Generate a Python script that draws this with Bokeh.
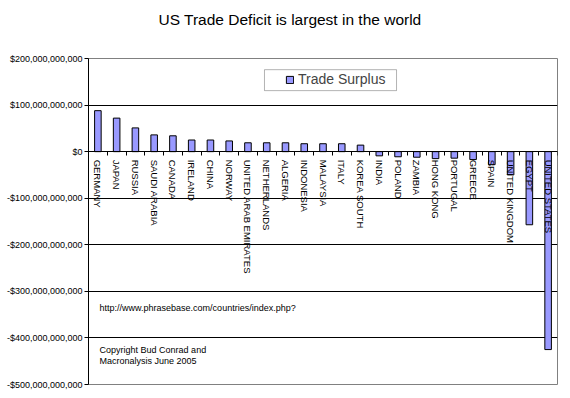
from bokeh.plotting import figure
from bokeh.models import (Label, Legend, LegendItem, FixedTicker, Range1d,
                          ColumnDataSource, BoxAnnotation, Title)
from bokeh.embed import file_html
from bokeh.resources import INLINE

countries = ["GERMANY", "JAPAN", "RUSSIA", "SAUDI ARABIA", "CANADA", "IRELAND",
             "CHINA", "NORWAY", "UNITED ARAB EMIRATES", "NETHERLANDS", "ALGERIA",
             "INDONESIA", "MALAYSIA", "ITALY", "KOREA SOUTH", "INDIA", "POLAND",
             "ZAMBIA", "HONG KONG", "PORTUGAL", "GREECE", "SPAIN",
             "UNITED KINGDOM", "EGYPT", "UNITED STATES"]
# Trade surplus, billions of US dollars
surplus_bn = [88, 72, 51, 36, 34, 25, 25, 23, 19, 19, 19, 17, 17, 17, 14,
              -9, -11, -12, -15, -14, -17, -28, -50, -157, -425]
ytick_values = [200, 100, 0, -100, -200, -300, -400, -500]
ytick_labels = ["$200,000,000,000", "$100,000,000,000", "$0",
                "-$100,000,000,000", "-$200,000,000,000", "-$300,000,000,000",
                "-$400,000,000,000", "-$500,000,000,000"]

FONT = "Liberation Sans"
idx = list(range(len(countries)))
values = [v * 1e9 for v in surplus_bn]
src = ColumnDataSource(dict(x=idx, top=values, name=countries))

p = figure(width=566, height=394, output_backend="svg", toolbar_location=None,
           x_range=Range1d(-0.5, len(countries) - 0.5),
           y_range=Range1d(-500e9, 200e9),
           min_border_left=88, min_border_right=9, min_border_top=58,
           min_border_bottom=10)
p.title.visible = False
p.background_fill_color = "white"
p.border_fill_color = "white"
p.outline_line_color = "#808080"

# spacer between the title and the plot area, then the title itself
p.add_layout(Title(text=" ", text_font=FONT, text_font_size="15.5px",
                   standoff=12), "above")
p.add_layout(Title(text="US Trade Deficit is largest in the world",
                   text_font=FONT, text_font_size="15.5px",
                   text_font_style="normal", text_color="black",
                   align="left", offset=70, standoff=0), "above")

r = p.vbar(x="x", top="top", bottom=0, width=0.35, source=src,
           fill_color="#9999FF", line_color="black", line_width=1)

# y axis
yt = [v * 1e9 for v in ytick_values]
p.yaxis.ticker = FixedTicker(ticks=yt, minor_ticks=[])
p.yaxis.major_label_overrides = {int(v * 1e9): s for v, s in zip(ytick_values, ytick_labels)}
p.yaxis.axis_line_color = "black"
p.yaxis.major_tick_line_color = "black"
p.yaxis.major_tick_out = 4
p.yaxis.major_tick_in = 0
p.yaxis.major_label_standoff = 2
p.yaxis.major_label_text_font = FONT
p.yaxis.major_label_text_font_size = "9px"
p.yaxis.major_label_text_color = "black"

# grid
p.ygrid.ticker = FixedTicker(ticks=yt, minor_ticks=[])
p.ygrid.grid_line_color = "black"
p.ygrid.grid_line_alpha = 1
p.xgrid.visible = False

# x axis at zero
p.xaxis.fixed_location = 0
p.xaxis.ticker = FixedTicker(ticks=idx, minor_ticks=[i - 0.5 for i in idx] + [len(idx) - 0.5])
p.xaxis.major_label_overrides = {i: c for i, c in zip(idx, countries)}
p.xaxis.major_label_orientation = "vertical"
p.xaxis.axis_line_color = "black"
p.xaxis.major_tick_line_color = None
p.xaxis.major_tick_out = 0
p.xaxis.major_tick_in = 0
p.xaxis.minor_tick_line_color = "black"
p.xaxis.minor_tick_out = 4
p.xaxis.minor_tick_in = 0
p.xaxis.major_label_standoff = 4
p.xaxis.major_label_text_font = FONT
p.xaxis.major_label_text_font_size = "9.5px"
p.xaxis.major_label_text_color = "black"

# legend
box = BoxAnnotation(left=8.88, right=15.92, top=176e9, bottom=131e9,
                    fill_color="white", fill_alpha=1, line_color="black",
                    line_width=1)
p.add_layout(box)
legend = Legend(items=[LegendItem(label="Trade Surplus", renderers=[r])],
                location=(197, 297), border_line_alpha=0,
                background_fill_alpha=0, padding=0, margin=0,
                glyph_width=9, glyph_height=9, label_standoff=4,
                label_text_font=FONT, label_text_font_size="14px",
                label_height=14)
p.add_layout(legend, "center")

# texts
p.add_layout(Label(x=0.09, y=-335e9, text="http://www.phrasebase.com/countries/index.php?",
                   text_font=FONT, text_font_size="9px", text_baseline="middle",
                   text_color="black"))
p.add_layout(Label(x=0.09, y=-425e9, text="Copyright Bud Conrad and",
                   text_font=FONT, text_font_size="9px", text_baseline="middle",
                   text_color="black"))
p.add_layout(Label(x=0.09, y=-449e9, text="Macronalysis June 2005",
                   text_font=FONT, text_font_size="9px", text_baseline="middle",
                   text_color="black"))

open("out.html", "w").write(file_html(p, INLINE))
